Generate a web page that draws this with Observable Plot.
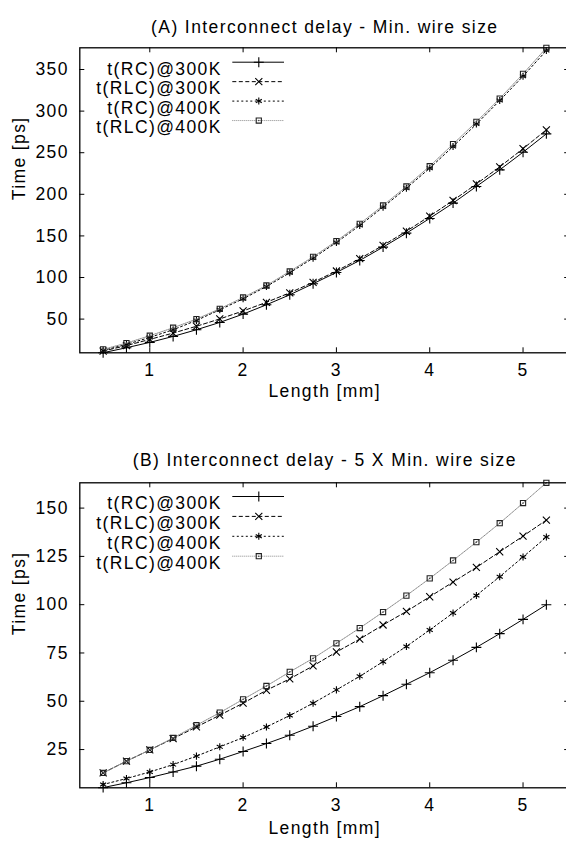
<!DOCTYPE html>
<html><head><meta charset="utf-8">
<script src="https://cdn.jsdelivr.net/npm/d3@7"></script>
<script src="https://cdn.jsdelivr.net/npm/@observablehq/plot@0.6"></script>
<style>
html,body{margin:0;padding:0;background:#fff;overflow:hidden}
#wrap{width:566px;height:846px;overflow:hidden;position:relative;background:#fff}
#wrap svg{display:block;max-width:none}
</style></head><body><div id="wrap"></div>
<script>
// ---- data ----
const lengths = [0.5,0.75,1.0,1.25,1.5,1.75,2.0,2.25,2.5,2.75,3.0,3.25,3.5,3.75,4.0,4.25,4.5,4.75,5.0,5.25];
const seriesNames = ["t(RC)@300K","t(RLC)@300K","t(RC)@400K","t(RLC)@400K"];
const titleA = "(A) Interconnect delay - Min. wire size";
const titleB = "(B) Interconnect delay - 5 X Min. wire size";
const xLabel = "Length [mm]";
const yLabel = "Time [ps]";
const xTicks = [1,2,3,4,5];
const yTicksA = [50,100,150,200,250,300,350];
const yTicksB = [25,50,75,100,125,150];

const a_rc300  = [9.6,15.6,22.0,29.2,37.2,46.0,56.0,67.2,79.2,92.5,106.1,120.5,136.5,153.3,171.0,189.4,209.4,229.4,250.6,272.7];
const a_rlc300 = [11.6,18.2,25.6,33.2,41.4,50.2,59.8,70.2,81.6,94.2,107.8,122.6,138.6,155.6,173.8,192.6,212.4,233.0,254.8,277.5];
const a_rc400  = [12.4,19.6,28.0,37.2,48.4,61.2,74.4,89.2,105.7,123.3,142.1,162.5,184.6,207.4,231.4,257.5,284.4,312.7,341.9,372.8];
const a_rlc400 = [13.6,21.2,30.0,39.6,50.0,62.4,76.0,90.4,107.3,124.9,143.7,164.5,186.6,209.4,233.8,260.3,287.1,315.1,344.8,376.0];

const b_rc300  = [5.3,7.8,10.5,13.4,16.4,20.0,24.0,28.1,32.4,37.1,42.1,47.2,52.9,58.8,64.8,71.2,77.9,85.0,92.4,100.0];
const b_rlc300 = [12.9,19.0,24.8,30.7,36.7,42.8,49.0,55.7,61.6,68.3,75.5,82.2,89.5,96.5,104.1,111.7,119.3,127.4,135.5,143.8];
const b_rc400  = [6.9,10.0,13.4,17.2,21.6,26.4,31.2,36.7,42.6,49.0,55.9,62.9,70.5,78.4,86.9,95.7,104.8,114.5,124.7,135.0];
const b_rlc400 = [12.9,19.0,24.8,31.0,37.6,44.1,51.0,57.9,65.2,72.2,80.0,87.9,96.2,104.7,113.6,122.9,132.4,142.2,152.6,163.1];

// ---- styles ----
const styles = [
  {stroke: "#000", dash: null,    symbol: "plus",     mstroke: "#000"},
  {stroke: "#000", dash: "4,2.5", symbol: "times",    mstroke: "#000"},
  {stroke: "#000", dash: "2,2.5", symbol: "asterisk", mstroke: "#000"},
  {stroke: "#888", dash: "1,1",   symbol: "square2",  mstroke: "#222"}
];
const FONT = "'Liberation Sans', Arial, Helvetica, sans-serif";
const FS = 17.5;
const W = 580, ML = 79.3, MR = 10.8;
const frameW = W - ML - MR;

function panel(o) {
  const frameH = o.height - o.marginTop - o.marginBottom;
  const marks = [];
  // ticks (inward, mirrored)
  marks.push(Plot.tickX(xTicks, {x: d => d, insetTop: frameH - 5, stroke: "#000"}));
  marks.push(Plot.tickX(xTicks, {x: d => d, insetBottom: frameH - 5, stroke: "#000"}));
  marks.push(Plot.tickY(o.yTicks, {y: d => d, insetRight: frameW - 5, stroke: "#000"}));
  marks.push(Plot.tickY(o.yTicks, {y: d => d, insetLeft: frameW - 5, stroke: "#000"}));
  marks.push(Plot.axisX(xTicks, {tickSize: 0, tickPadding: 11, fontSize: FS, label: null}));
  marks.push(Plot.axisY(o.yTicks, {tickSize: 0, tickPadding: 11, fontSize: FS, label: null}));
  // series
  o.values.forEach((vals, s) => {
    const st = styles[s];
    const rows = vals.map((v, i) => ({x: lengths[i], y: v}));
    marks.push(Plot.line(rows, {x: "x", y: "y", stroke: st.stroke, strokeWidth: 1, strokeDasharray: st.dash}));
    marks.push(Plot.dot(rows, {x: "x", y: "y", symbol: st.symbol, r: 3.3, stroke: st.mstroke, strokeWidth: 1.1, fill: "none"}));
    if (st.symbol === "square2") marks.push(Plot.dot(rows, {x: "x", y: "y", r: 0.8, fill: "#444", stroke: "none"}));
  });
  // legend
  seriesNames.forEach((name, s) => {
    const st = styles[s];
    const dy = o.legendTop + s * o.legendStep;
    marks.push(Plot.text([name], {text: d => d, frameAnchor: "top-left", dx: 142, dy, textAnchor: "end", fontSize: FS}));
    marks.push(Plot.ruleY([o.yDomain[1]], {dy, insetLeft: 153, insetRight: frameW - 204.7, stroke: st.stroke, strokeWidth: 1, strokeDasharray: st.dash}));
    marks.push(Plot.dot([0], {frameAnchor: "top-left", dx: 179, dy, symbol: st.symbol, r: 3.3, stroke: st.mstroke, strokeWidth: 1.1, fill: "none"}));
    if (st.symbol === "square2") marks.push(Plot.dot([0], {frameAnchor: "top-left", dx: 179, dy, r: 0.8, fill: "#444", stroke: "none"}));
  });
  // frame & labels
  marks.push(Plot.frame({stroke: "#000", strokeWidth: 1.3}));
  marks.push(Plot.text([o.title], {text: d => d, frameAnchor: "top", dy: o.titleDy, fontSize: FS}));
  marks.push(Plot.text([xLabel], {text: d => d, frameAnchor: "bottom", dy: o.xlabelDy, fontSize: FS}));
  marks.push(Plot.text([yLabel], {text: d => d, frameAnchor: "left", dx: -60, rotate: -90, fontSize: FS}));

  return Plot.plot({
    width: W, height: o.height,
    marginLeft: ML, marginRight: MR, marginTop: o.marginTop, marginBottom: o.marginBottom,
    x: {domain: [0.25, 5.5]},
    y: {domain: o.yDomain},
    style: {fontFamily: FONT, fontSize: FS + "px", letterSpacing: "1.4px", color: "#000", background: "#fff", maxWidth: "none"},
    marks
  });
}

const wrap = document.getElementById("wrap");
wrap.appendChild(panel({
  title: titleA, values: [a_rc300, a_rlc300, a_rc400, a_rlc400],
  yDomain: [9.5, 376.1], yTicks: yTicksA,
  height: 430, marginTop: 47.3, marginBottom: 77.7,
  legendTop: 14.4, legendStep: 19.45, titleDy: -27, xlabelDy: 44
}));
wrap.appendChild(panel({
  title: titleB, values: [b_rc300, b_rlc300, b_rc400, b_rlc400],
  yDomain: [5.2, 163.1], yTicks: yTicksB,
  height: 416, marginTop: 52.3, marginBottom: 58.7,
  legendTop: 13.7, legendStep: 19.9, titleDy: -29.3, xlabelDy: 46
}));
</script></body></html>
